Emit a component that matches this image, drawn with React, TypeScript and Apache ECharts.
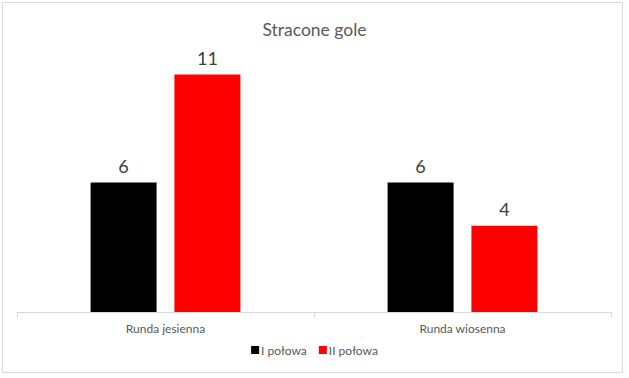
import React, { useEffect, useRef } from "react";
import * as echarts from "echarts";

const categories = ["Runda jesienna", "Runda wiosenna"];
const seriesNames = ["I połowa", "II połowa"];
const firstHalf = [6, 6];
const secondHalf = [11, 4];
const colors = ["#000000", "#FF0000"];

export default function App() {
  const ref = useRef<HTMLDivElement>(null);
  useEffect(() => {
    document.body.style.margin = "0";
    const chart = echarts.init(ref.current!, null, { renderer: "svg" });
    const font = "Lato, 'Liberation Sans', sans-serif";
    const label = {
      show: true,
      position: "top" as const,
      distance: 8,
      fontSize: 18,
      color: "#404040",
      fontFamily: font,
    };
    chart.setOption({
      animation: false,
      backgroundColor: "#ffffff",
      title: {
        text: "Stracone gole",
        left: "center",
        top: 15,
        textStyle: { fontSize: 17.5, fontWeight: "normal", color: "#595959", fontFamily: font },
      },
      legend: {
        bottom: 17,
        left: "center",
        itemWidth: 8,
        itemHeight: 8,
        itemGap: 12,
        icon: "rect",
        textStyle: { fontSize: 12, color: "#595959", fontFamily: font, padding: [0, 0, 0, -3] },
        data: seriesNames,
      },
      grid: { left: 17, right: 18, top: 53, bottom: 66, containLabel: false },
      xAxis: {
        type: "category",
        data: categories,
        axisLine: { lineStyle: { color: "#D9D9D9" } },
        axisTick: { show: true, length: 5, lineStyle: { color: "#D9D9D9" } },
        axisLabel: { fontSize: 12, color: "#595959", fontFamily: font, margin: 10 },
      },
      yAxis: {
        type: "value",
        min: 0,
        max: 12,
        interval: 2,
        show: false,
        splitLine: { show: false },
      },
      series: [
        {
          name: seriesNames[0],
          type: "bar",
          data: firstHalf,
          barWidth: 66,
          barGap: "27%",
          itemStyle: { color: colors[0] },
          label,
        },
        {
          name: seriesNames[1],
          type: "bar",
          data: secondHalf,
          barWidth: 66,
          itemStyle: { color: colors[1] },
          label,
        },
      ],
      graphic: [
        {
          type: "rect",
          shape: { x: 2.5, y: 2.5, width: 620, height: 370 },
          style: { fill: "none", stroke: "#D9D9D9", lineWidth: 1 },
          silent: true,
        },
      ],
    });
    return () => chart.dispose();
  }, []);
  return <div ref={ref} style={{ width: 629, height: 378, position: "absolute", left: 0, top: 0 }} />;
}
